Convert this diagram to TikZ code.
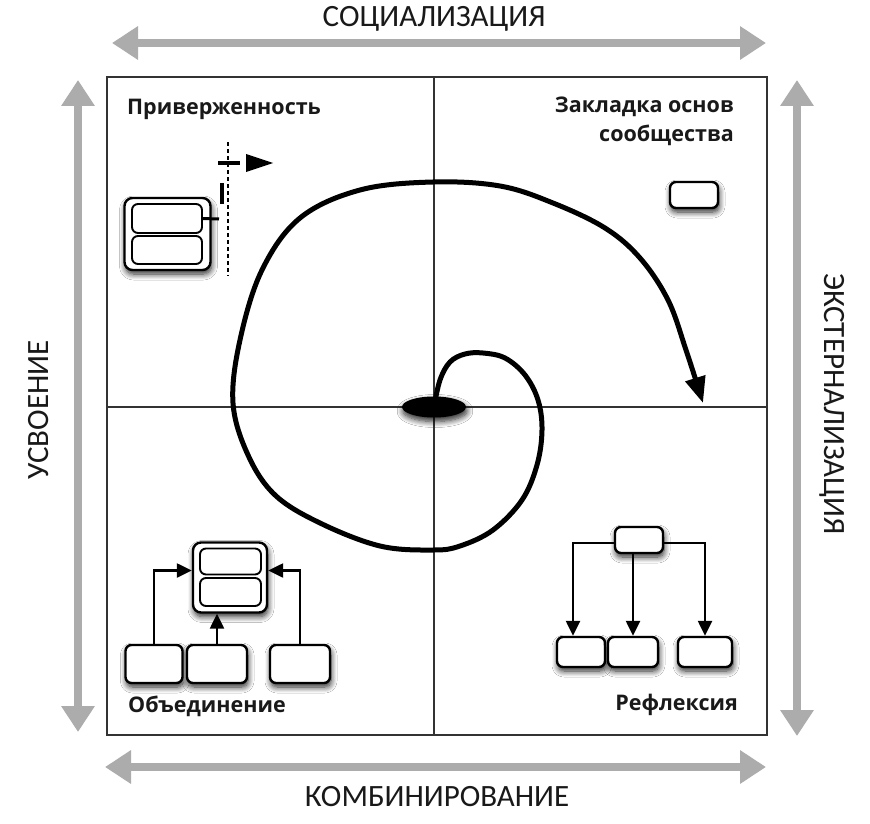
\documentclass[tikz,border=0pt]{standalone}
\usepackage{fontspec}
\setmainfont{Carlito}
\newfontfamily\labfont{Open Sans}
\usetikzlibrary{arrows.meta,shapes.geometric,shadows.blur}
\tikzset{
  axisarrow/.style={line width=8pt, color=gray!65, {Triangle[length=26pt,width=32pt]}-{Triangle[length=26pt,width=32pt]}},
  axislabel/.style={font=\fontsize{31}{32}\selectfont, text=black!90, inner sep=0pt},
  quadlabel/.style={font=\labfont\bfseries\fontsize{21.5}{29}\selectfont, text=black!90, inner sep=0pt},
  softshadow/.style={blur shadow={shadow blur steps=8, shadow xshift=1pt, shadow yshift=-4pt, shadow blur radius=6pt, shadow opacity=85}},
  rbox/.style={draw=black, line width=2.4pt, rounded corners=6pt, fill=white, inner sep=0pt, softshadow},
  ibox/.style={draw=black, line width=1.9pt, rounded corners=6pt, fill=white, inner sep=0pt},
  iarrow/.style={line width=2.4pt, -{Triangle[length=15pt,width=14pt]}},
  spiral/.style={line width=5pt, -{Triangle[length=26pt,width=20pt]}},
}
\begin{document}
\begin{tikzpicture}[x=1pt,y=-1pt]
\useasboundingbox (0,0) rectangle (870,824);
\fill[white] (0,0) rectangle (870,824);

% axis arrows
\coordinate (tl) at (112,43); \coordinate (tr) at (766,43);
\coordinate (bl) at (105,767); \coordinate (br) at (766,767);
\coordinate (lt) at (78,80); \coordinate (lb) at (78,732);
\coordinate (rt) at (797,80); \coordinate (rb) at (797,736);
\draw[axisarrow] (tl) -- (tr);
\draw[axisarrow] (bl) -- (br);
\draw[axisarrow] (lt) -- (lb);
\draw[axisarrow] (rt) -- (rb);

\node[axislabel, anchor=base] (soc) at (434,27) {СОЦИАЛИЗАЦИЯ};
\node[axislabel, anchor=base] (komb) at (437,806) {КОМБИНИРОВАНИЕ};
\node[axislabel, rotate=90] (usv) at (39,410) {УСВОЕНИЕ};
\node[axislabel, rotate=-90] (ext) at (832,404) {ЭКСТЕРНАЛИЗАЦИЯ};

% frame and cross
\draw[line width=1.6pt, black!80] (107,77) rectangle (767,735);
\draw[line width=1.2pt, black!80] (434,77) -- (434,735);
\draw[line width=1.2pt, black!80] (107,407) -- (767,407);

% quadrant labels
\node[quadlabel, anchor=base west] (q1) at (127,115) {Приверженность};
\node[quadlabel, anchor=base east, align=right] (q2) at (734,142) {Закладка основ\\сообщества};
\node[quadlabel, anchor=base west] (q3) at (128,712) {Объединение};
\node[quadlabel, anchor=base east] (q4) at (738,710) {Рефлексия};

% top-left icon
\node[rbox, minimum width=86pt, minimum height=72pt, rounded corners=8pt] (TLo) at (167.5,234) {};
\node[ibox, minimum width=70pt, minimum height=29pt] (TLa) at (167,218.5) {};
\node[ibox, minimum width=70pt, minimum height=28pt] (TLb) at (167,250) {};
\coordinate (TLc) at (219,219);
\draw[line width=3pt] (TLa.east) -- (TLc);
\coordinate (dashtop) at (228,142); \coordinate (dashbot) at (228,276);
\draw[line width=1.3pt, dash pattern=on 4pt off 3pt] (dashtop) -- (dashbot);
\coordinate (tick1) at (218,163); \coordinate (tick2) at (240,163);
\draw[line width=3.2pt] (tick1) -- (tick2);
\coordinate (vd1) at (222,183); \coordinate (vd2) at (222,204);
\draw[line width=3.6pt] (vd1) -- (vd2);
\fill (246,154) -- (273,163) -- (246,172) -- cycle;

% top-right icon
\node[rbox, minimum width=48pt, minimum height=26pt] (TR) at (694,195) {};

% bottom-left icon
\node[rbox, minimum width=74pt, minimum height=70pt, rounded corners=8pt] (BLo) at (230,577.5) {};
\node[ibox, minimum width=61pt, minimum height=26pt] (BLa) at (230.5,561.5) {};
\node[ibox, minimum width=61pt, minimum height=28pt] (BLb) at (230.5,592) {};
\node[rbox, minimum width=57pt, minimum height=38pt] (B1) at (154,664) {};
\node[rbox, minimum width=60pt, minimum height=38pt] (B2) at (217,664) {};
\node[rbox, minimum width=60pt, minimum height=38pt] (B3) at (300,664) {};
\draw[iarrow] (B1.north) |- ([yshift=7pt]BLo.west);
\draw[iarrow] (B2.north) -- (B2.north |- BLo.south);
\draw[iarrow] (B3.north) |- ([yshift=7pt]BLo.east);

% bottom-right icon
\node[rbox, minimum width=48pt, minimum height=26pt] (BRt) at (639,540) {};
\node[rbox, minimum width=48pt, minimum height=30pt] (C1) at (581,652) {};
\node[rbox, minimum width=50pt, minimum height=30pt] (C2) at (633,652) {};
\node[rbox, minimum width=54pt, minimum height=30pt] (C3) at (705,652) {};
\draw[iarrow] ([yshift=-3pt]BRt.west) -| ([xshift=-8pt]C1.north);
\draw[iarrow] (BRt.south -| C2.north) -- (C2.north);
\draw[iarrow] ([yshift=-3pt]BRt.east) -| (C3.north);

% center ellipse and spiral
\node[ellipse, fill=black, minimum width=64pt, minimum height=21pt, inner sep=0pt, softshadow] (E) at (434,407) {};
\draw[spiral] plot[smooth, tension=0.6] coordinates {
 (E.center) (440,380) (450,362) (465,354) (483,353) (505,358) (525,375) (538,400)
 (542,430) (537,465) (522,500) (493,530) (460,546) (433,550) (380,546)
 (320,523) (275,495) (248,455) (233,403) (240,340) (262,270) (300,218)
 (360,190) (433,182) (500,186) (553,203) (605,228) (640,258) (668,300)
 (686,350) (703,403)};
\end{tikzpicture}
\end{document}
